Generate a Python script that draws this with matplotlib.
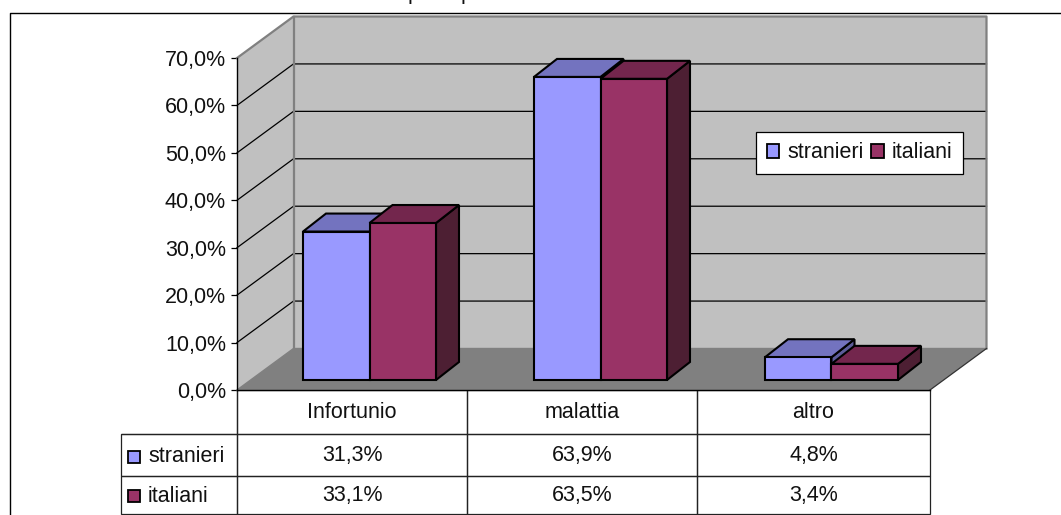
import matplotlib
matplotlib.use("Agg")
import matplotlib.pyplot as plt
from matplotlib.lines import Line2D
from matplotlib.patches import Patch, Polygon, Rectangle

plt.rcParams['font.family'] = ['Liberation Sans', 'DejaVu Sans']

categories = ['Infortunio', 'malattia', 'altro']
series_names = ['stranieri', 'italiani']
stranieri = [31.3, 63.9, 4.8]
italiani = [33.1, 63.5, 3.4]
y_ticks = [0, 10, 20, 30, 40, 50, 60, 70]

W, H = 1061, 515
L, R, T, B = 237, 930, 58, 390   # front plane, pixels
FONT = 15.5

front_colors = ['#9999FF', '#993366']
top_colors = ['#7373BF', '#73264D']
side_colors = ['#5C5C99', '#4D1F33']

fig = plt.figure(figsize=(W / 100, H / 100), dpi=100)
ax = fig.add_axes([L / W, 1 - B / H, (R - L) / W, (B - T) / H])
ax.set_xlim(0, 3)
ax.set_ylim(0, 70)
ax.patch.set_visible(False)

# pixels to data units
px_x = 3 / (R - L)
px_y = 70 / (B - T)
wall_dx = 56.5 * px_x
wall_dy = 41.5 * px_y


def poly(points, color, edge='none', lw=0.0, z=1):
    ax.add_patch(Polygon(points, closed=True, facecolor=color, edgecolor=edge,
                         linewidth=lw, zorder=z, clip_on=False, joinstyle='miter'))


# walls and floor
poly([(0, 0), (wall_dx, wall_dy), (wall_dx, 70 + wall_dy), (0, 70)], '#C0C0C0')
poly([(wall_dx, wall_dy), (3 + wall_dx, wall_dy), (3 + wall_dx, 70 + wall_dy), (wall_dx, 70 + wall_dy)], '#C0C0C0')
poly([(0, 0), (3, 0), (3 + wall_dx, wall_dy), (wall_dx, wall_dy)], '#808080')

for t in y_ticks[1:-1]:
    ax.plot([0, wall_dx, 3 + wall_dx], [t, t + wall_dy, t + wall_dy], color='black', lw=0.9, zorder=2, clip_on=False)
ax.plot([0, wall_dx, 3 + wall_dx, 3 + wall_dx], [70, 70 + wall_dy, 70 + wall_dy, wall_dy],
        color='#808080', lw=1.6, zorder=2, clip_on=False)
ax.plot([wall_dx, wall_dx], [wall_dy, 70 + wall_dy], color='#808080', lw=1.6, zorder=2, clip_on=False)
ax.plot([0, wall_dx, 3 + wall_dx], [0, wall_dy, wall_dy], color='#808080', lw=1.0, zorder=2, clip_on=False)
ax.plot([3, 3 + wall_dx], [0, wall_dy], color='#333333', lw=0.9, zorder=2, clip_on=False)

# bars
bar_w = 66.5 * px_x
shift_x = 17 * px_x
base_y = 10 * px_y
bar_dx = 23 * px_x
bar_dy = 18 * px_y

for i in range(len(categories)):
    for s, values in enumerate([stranieri, italiani]):
        x0 = i + 0.5 + shift_x + (s - 1) * bar_w
        x1 = x0 + bar_w
        y0 = base_y
        y1 = base_y + values[i]
        z = 3 + s
        poly([(x1, y0), (x1 + bar_dx, y0 + bar_dy), (x1 + bar_dx, y1 + bar_dy), (x1, y1)],
             side_colors[s], 'black', 1.5, z)
        poly([(x0, y1), (x1, y1), (x1 + bar_dx, y1 + bar_dy), (x0 + bar_dx, y1 + bar_dy)],
             top_colors[s], 'black', 1.5, z)
        poly([(x0, y0), (x1, y0), (x1, y1), (x0, y1)], front_colors[s], 'black', 1.5, z)

# axes lines
for side in ['top', 'right']:
    ax.spines[side].set_visible(False)
ax.spines['left'].set_linewidth(1.0)
ax.spines['bottom'].set_linewidth(1.0)
ax.set_xticks([])
ax.set_yticks(y_ticks)
ax.set_yticklabels([f'{t:.1f}%'.replace('.', ',') for t in y_ticks], fontsize=FONT, color='#111111')
ax.tick_params(axis='y', length=4, width=0.9, pad=4)

# data table below the plot
col_w = [116, 230, 230, 233]
row_h = [44, 42, 38]
rows = [[''] + categories,
        [''] + [f'{v:.1f}%'.replace('.', ',') for v in stranieri],
        [''] + [f'{v:.1f}%'.replace('.', ',') for v in italiani]]
table = ax.table(cellText=rows, cellLoc='center',
                 bbox=[-116 / (R - L), -sum(row_h) / (B - T), sum(col_w) / (R - L), sum(row_h) / (B - T)])
table.auto_set_font_size(False)
for (r, c), cell in table.get_celld().items():
    cell.set_width(col_w[c])
    cell.set_height(row_h[r])
    cell.set_linewidth(0.9)
    cell.set_edgecolor('#222222')
    cell.set_facecolor('none')
    cell.get_text().set_fontsize(FONT)
    cell.get_text().set_color('#111111')
table[0, 0].visible_edges = 'BR'
table[0, 0].set_edgecolor('#222222')

# row labels with colour keys
trans = fig.transFigure
row_mid = [457, 496]
for s, name in enumerate(series_names):
    fig.text(148 / W, 1 - row_mid[s] / H, name, fontsize=FONT, color='#111111', va='center', ha='left')
    fig.add_artist(Rectangle((127.5 / W, 1 - (row_mid[s] + 6) / H), 12 / W, 12 / H, transform=trans,
                             facecolor=front_colors[s], edgecolor='black', linewidth=1.3))

# legend
handles = [Patch(facecolor=front_colors[s], edgecolor='black', linewidth=1.3, label=series_names[s]) for s in range(2)]
leg = fig.legend(handles=handles, ncol=2, loc='center', bbox_to_anchor=(859.5 / W, 1 - 153 / H), fontsize=FONT,
                 fancybox=False, framealpha=1, edgecolor='black', handlelength=0.58, handleheight=0.58,
                 handletextpad=0.36, columnspacing=0.36, borderpad=0.5, borderaxespad=0)
leg.get_frame().set_linewidth(0.9)
for t in leg.get_texts():
    t.set_color('#111111')

# outer chart frame, cut by the image edge
fig.add_artist(Line2D([9.5 / W, 9.5 / W, 1], [0, 1 - 12.5 / H, 1 - 12.5 / H], transform=trans,
                      color='black', lw=1.0))

# descenders of the cropped title
for x in [414, 467]:
    fig.text(x / W, 1 + 1.5 / H, 'p', fontsize=FONT, ha='center', va='baseline', color='#111111')

fig.savefig('out.png', dpi=100)
